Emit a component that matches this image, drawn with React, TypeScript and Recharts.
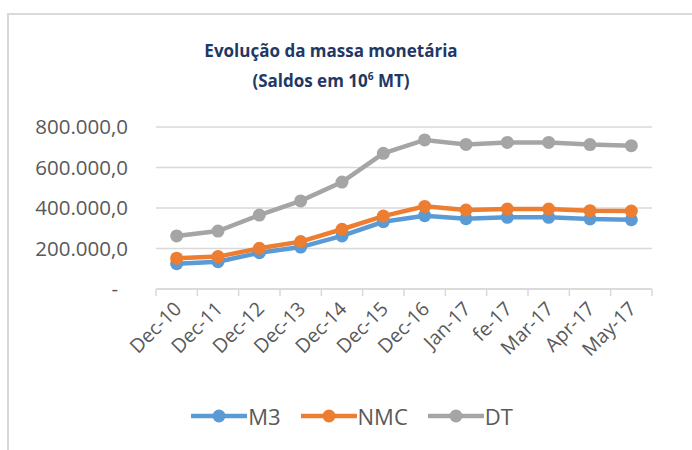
import { LineChart, Line, XAxis, YAxis, CartesianGrid, Legend } from "recharts";

const categories = [
  "Dec-10", "Dec-11", "Dec-12", "Dec-13", "Dec-14", "Dec-15",
  "Dec-16", "Jan-17", "fe-17", "Mar-17", "Apr-17", "May-17",
];
const m3 = [125000, 135000, 179000, 207000, 262000, 332000, 362000, 347000, 354000, 354000, 346000, 342000];
const nmc = [152000, 160000, 201000, 234000, 295000, 360000, 408000, 390000, 395000, 395000, 387000, 385000];
const dt = [262000, 286000, 365000, 435000, 528000, 670000, 736000, 714000, 724000, 724000, 713000, 708000];
const yTicks = [0, 200000, 400000, 600000, 800000];

const COLORS = { m3: "#5B9BD5", nmc: "#ED7D31", dt: "#A5A5A5" };
const FONT = "'Open Sans', sans-serif";
const TEXT = "#595959";
const GRID = "#d9d9d9";

const W = 692;
const H = 450;
const MARGIN = { top: 127, right: 40, left: 0, bottom: 0 };
const Y_W = 156;
const HALF_BAND = (W - Y_W - MARGIN.right) / categories.length / 2;

const data = categories.map((c, i) => ({ name: c, M3: m3[i], NMC: nmc[i], DT: dt[i] }));

function fmt(v: number): string {
  if (v === 0) return "-";
  const s = Math.round(v).toString().replace(/\B(?=(\d{3})+(?!\d))/g, ".");
  return s + ",0";
}

function YTick({ x, y, payload }: any) {
  const zero = payload.value === 0;
  return (
    <text x={x} y={y} dx={zero ? -10 : 0} dy="0.36em" textAnchor="end"
      fill={TEXT} fontSize={20.5} fontFamily={FONT}>
      {fmt(payload.value)}
    </text>
  );
}

// Excel-style: tick marks sit on category boundaries, labels under the centre
function XTick({ x, y, payload, index }: any) {
  const ax = x + 6;
  const ay = y + 21;
  const last = index === categories.length - 1;
  return (
    <g>
      <line x1={x - HALF_BAND} y1={y} x2={x - HALF_BAND} y2={y + 7} stroke={GRID} strokeWidth={1.5} />
      {last && <line x1={x + HALF_BAND} y1={y} x2={x + HALF_BAND} y2={y + 7} stroke={GRID} strokeWidth={1.5} />}
      <text x={ax} y={ay} textAnchor="end" transform={`rotate(-45 ${ax} ${ay})`}
        fill={TEXT} fontSize={19.5} fontFamily={FONT}>
        {payload.value}
      </text>
    </g>
  );
}

function LegendContent() {
  const items = [
    { name: "M3", color: COLORS.m3 },
    { name: "NMC", color: COLORS.nmc },
    { name: "DT", color: COLORS.dt },
  ];
  return (
    <div style={{ display: "flex", justifyContent: "center", gap: 20, paddingLeft: 12 }}>
      {items.map((it) => (
        <div key={it.name} style={{ display: "flex", alignItems: "center" }}>
          <svg width={56} height={16}>
            <line x1={1} y1={8} x2={55} y2={8} stroke={it.color} strokeWidth={4.5} strokeLinecap="round" />
            <circle cx={28} cy={8} r={6.5} fill={it.color} />
          </svg>
          <span style={{ fontFamily: FONT, fontSize: 22, color: TEXT, marginLeft: 1 }}>{it.name}</span>
        </div>
      ))}
    </div>
  );
}

export default function App() {
  return (
    <div style={{ position: "absolute", left: 0, top: 0, width: W, height: H, background: "#fff", overflow: "hidden" }}>
      <div style={{ position: "absolute", left: 7, top: 13, width: 700, height: 450, borderTop: `2px solid ${GRID}`, borderLeft: `2px solid ${GRID}` }} />
      <div style={{ position: "absolute", left: 0, top: 36, width: 662, textAlign: "center", fontFamily: FONT, fontWeight: 700, fontSize: 17, lineHeight: "30px", color: "#1F3864" }}>
        <div>Evolução da massa monetária</div>
        <div>(Saldos em 10<sup style={{ fontSize: "0.6em", lineHeight: 0 }}>6</sup> MT)</div>
      </div>
      <LineChart width={W} height={H} data={data} margin={MARGIN}>
        <CartesianGrid vertical={false} stroke={GRID} strokeWidth={1.5} />
        <XAxis dataKey="name" scale="band" interval={0} height={H - 289} tick={<XTick />}
          axisLine={{ stroke: GRID, strokeWidth: 1.5 }} tickLine={false}
          tickSize={0} tickMargin={0} />
        <YAxis width={Y_W} domain={[0, 800000]} ticks={yTicks} interval={0} tick={<YTick />}
          axisLine={false} tickLine={false} tickSize={0} tickMargin={28} />
        <Legend verticalAlign="middle" layout="horizontal" content={<LegendContent />}
          wrapperStyle={{ top: 401, left: 0, width: W }} />
        <Line dataKey="M3" stroke={COLORS.m3} strokeWidth={4.5} isAnimationActive={false}
          dot={{ r: 6.5, fill: COLORS.m3, stroke: "none" }} />
        <Line dataKey="NMC" stroke={COLORS.nmc} strokeWidth={4.5} isAnimationActive={false}
          dot={{ r: 6.5, fill: COLORS.nmc, stroke: "none" }} />
        <Line dataKey="DT" stroke={COLORS.dt} strokeWidth={4.5} isAnimationActive={false}
          dot={{ r: 6.5, fill: COLORS.dt, stroke: "none" }} />
      </LineChart>
    </div>
  );
}
